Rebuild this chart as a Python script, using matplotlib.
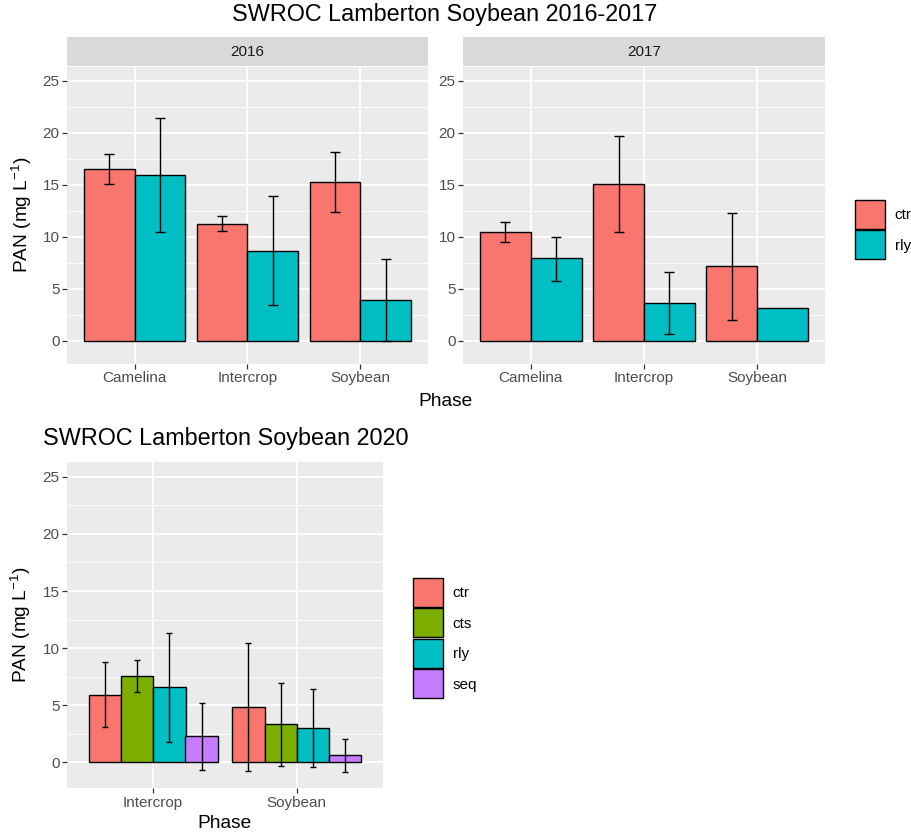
import numpy as np
import matplotlib
matplotlib.use("Agg")
import matplotlib.pyplot as plt
from matplotlib.patches import Patch

plt.rcParams['font.family'] = ['Liberation Sans', 'DejaVu Sans']
plt.rcParams['mathtext.fontset'] = 'custom'
plt.rcParams['mathtext.rm'] = 'Liberation Sans'
plt.rcParams['mathtext.it'] = 'Liberation Sans:italic'

# ---- data ----
phases_top = ['Camelina', 'Intercrop', 'Soybean']
trt_top = ['ctr', 'rly']

pan_2016 = {'ctr': [16.5, 11.2, 15.2], 'rly': [15.9, 8.65, 3.9]}
lo_2016 = {'ctr': [15.1, 10.5, 12.4], 'rly': [10.4, 3.4, -0.05]}
hi_2016 = {'ctr': [17.9, 12.0, 18.1], 'rly': [21.4, 13.9, 7.85]}

pan_2017 = {'ctr': [10.45, 15.1, 7.15], 'rly': [7.9, 3.6, 3.1]}
lo_2017 = {'ctr': [9.5, 10.45, 1.95], 'rly': [5.75, 0.6, np.nan]}
hi_2017 = {'ctr': [11.4, 19.7, 12.3], 'rly': [10.0, 6.6, np.nan]}

phases_2020 = ['Intercrop', 'Soybean']
trt_2020 = ['ctr', 'cts', 'rly', 'seq']
pan_2020 = {'ctr': [5.9, 4.83], 'cts': [7.55, 3.35], 'rly': [6.58, 3.03], 'seq': [2.27, 0.61]}
lo_2020 = {'ctr': [3.05, -0.76], 'cts': [6.14, -0.29], 'rly': [1.8, -0.38], 'seq': [-0.67, -0.84]}
hi_2020 = {'ctr': [8.8, 10.42], 'cts': [9.0, 6.96], 'rly': [11.35, 6.43], 'seq': [5.18, 2.04]}

colors_2 = {'ctr': '#F8766D', 'rly': '#00BFC4'}
colors_4 = {'ctr': '#F8766D', 'cts': '#7CAE00', 'rly': '#00BFC4', 'seq': '#C77CFF'}

W, H = 912, 836
fig = plt.figure(figsize=(W / 100, H / 100), dpi=100)


def px_axes(x0, y0, x1, y1):
    return fig.add_axes([x0 / W, 1 - y1 / H, (x1 - x0) / W, (y1 - y0) / H])


def style(ax, ncat, labels):
    ax.set_facecolor('#EBEBEB')
    ax.set_xlim(0.4, ncat + 0.6)
    ax.set_ylim(-2.25, 26.3)
    ax.set_yticks([0, 5, 10, 15, 20, 25])
    ax.set_yticks(np.arange(2.5, 25, 5), minor=True)
    ax.set_xticks(np.arange(1, ncat + 1))
    ax.set_xticklabels(labels)
    ax.grid(True, which='major', color='white', lw=1.3)
    ax.grid(True, which='minor', axis='y', color='white', lw=0.6)
    ax.set_axisbelow(True)
    for s in ax.spines.values():
        s.set_visible(False)
    ax.tick_params(which='major', length=3.4, width=0.9, color='#333333',
                   labelcolor='#4D4D4D', labelsize=11, pad=2)
    ax.tick_params(which='minor', length=0)


def draw_bars(ax, phases, trts, vals, lo, hi, colors, capsize):
    x = np.arange(1, len(phases) + 1)
    n = len(trts)
    w = 0.9 / n
    for i, t in enumerate(trts):
        xi = x - 0.45 + w * (i + 0.5)
        v = np.array(vals[t])
        ax.bar(xi, v, width=w, color=colors[t], edgecolor='black', lw=1.0, zorder=2)
        l = np.array(lo[t], dtype=float)
        h = np.array(hi[t], dtype=float)
        ok = ~np.isnan(l)
        ax.errorbar(xi[ok], v[ok], yerr=[v[ok] - l[ok], h[ok] - v[ok]], fmt='none',
                    ecolor='black', elinewidth=1.0, capsize=capsize, capthick=1.0, zorder=3)


def strip(x0, x1, text):
    s = px_axes(x0, 37, x1, 66)
    s.set_facecolor('#D9D9D9')
    s.set_xticks([])
    s.set_yticks([])
    for sp in s.spines.values():
        sp.set_visible(False)
    s.text(0.5, 0.5, text, ha='center', va='center', fontsize=11, color='#1A1A1A',
           transform=s.transAxes)


def legend(handles, labels, x, y):
    fig.legend(handles, labels, loc='upper left', bbox_to_anchor=(x / W, 1 - y / H),
               frameon=False, fontsize=11, handlelength=1.96, handleheight=2.54,
               labelspacing=0.1, handletextpad=0.65, borderpad=0, borderaxespad=0)


# ---- top: 2016-2017 ----
ax1 = px_axes(67, 67, 428, 364)
style(ax1, 3, phases_top)
draw_bars(ax1, phases_top, trt_top, pan_2016, lo_2016, hi_2016, colors_2, 3.3)
strip(67, 428, '2016')

ax2 = px_axes(463, 67, 825, 364)
style(ax2, 3, phases_top)
draw_bars(ax2, phases_top, trt_top, pan_2017, lo_2017, hi_2017, colors_2, 3.3)
strip(463, 825, '2017')

fig.text(445 / W, 1 - 15 / H, 'SWROC Lamberton Soybean 2016-2017', ha='center', va='center',
         fontsize=16.8)
fig.text(446 / W, 1 - 401 / H, 'Phase', ha='center', va='center', fontsize=13.75)
fig.text(22 / W, 1 - 215 / H, r'PAN (mg L$^{-1}$)', ha='center', va='center',
         rotation=90, fontsize=13.75)

legend([Patch(facecolor=colors_2[t], edgecolor='black', lw=1.0) for t in trt_top],
       trt_top, 855, 200)

# ---- bottom: 2020 ----
ax3 = px_axes(67, 462, 383, 788)
style(ax3, 2, phases_2020)
draw_bars(ax3, phases_2020, trt_2020, pan_2020, lo_2020, hi_2020, colors_4, 2.3)

fig.text(43 / W, 1 - 438 / H, 'SWROC Lamberton Soybean 2020', ha='left', va='center',
         fontsize=16.8)
fig.text(225 / W, 1 - 824 / H, 'Phase', ha='center', va='center', fontsize=13.75)
fig.text(21 / W, 1 - 625 / H, r'PAN (mg L$^{-1}$)', ha='center', va='center',
         rotation=90, fontsize=13.75)

legend([Patch(facecolor=colors_4[t], edgecolor='black', lw=1.0) for t in trt_2020],
       trt_2020, 413, 578)

fig.savefig('out.png', dpi=100)
